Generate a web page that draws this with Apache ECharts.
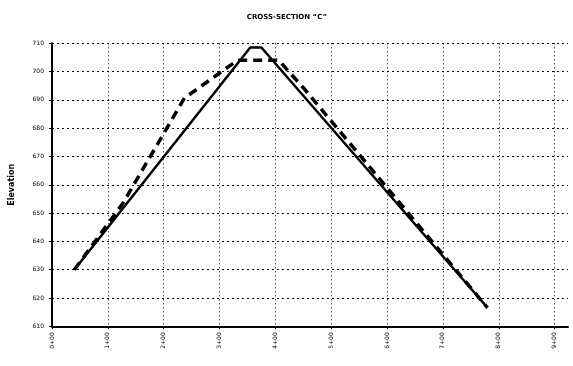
<!DOCTYPE html>
<html><head><meta charset="utf-8">
<script src="https://cdn.jsdelivr.net/npm/echarts@6/dist/echarts.min.js"></script>
<style>html,body{margin:0;padding:0;background:#fff}#c{width:573px;height:366px}</style>
</head><body><div id="c"></div>
<script>
var titleText = 'CROSS-SECTION “C”';
var yName = 'Elevation';
var xTicks = [0,100,200,300,400,500,600,700,800,900];
var yTicks = [610,620,630,640,650,660,670,680,690,700,710];
var solidStation = [40, 355, 375, 778];
var solidElev = [630, 708.5, 708.5, 617];
var dashedStation = [40, 127, 237, 332, 406, 454, 674, 780];
var dashedElev = [630, 653.5, 690.6, 704, 704, 693.4, 641.5, 616.5];

function pairs(xs, ys){ return xs.map(function(x,i){return [x, ys[i]];}); }
function fmtStation(v){
  if (v % 100 !== 0) return '';
  return (v/100) + '+00';
}
var chart = echarts.init(document.getElementById('c'));
chart.setOption({
  animation:false,
  backgroundColor:'#fff',
  title:{text:titleText,left:282,top:9,textAlign:'center',
    textStyle:{fontFamily:'DejaVu Sans',fontSize:7,fontWeight:'bold',color:'#000'}},
  grid:{left:50.5,top:43.3,right:5,bottom:39.7},
  xAxis:{type:'value',min:0,max:924,interval:100,
    axisLine:{lineStyle:{color:'#000',width:2}},
    axisTick:{show:true,length:3,customValues:xTicks,lineStyle:{color:'#000'}},
    splitLine:{show:true,lineStyle:{color:'#000',width:1,type:[1,3]}},
    axisLabel:{rotate:90,customValues:xTicks,formatter:fmtStation,fontFamily:'DejaVu Sans',fontSize:6,color:'#000',margin:6}},
  yAxis:{type:'value',min:610,max:710,interval:10,
    name:yName,nameLocation:'middle',nameGap:36,
    nameTextStyle:{fontFamily:'DejaVu Sans',fontSize:8,fontWeight:'bold',color:'#000'},
    axisLine:{show:true,lineStyle:{color:'#000',width:2}},
    axisTick:{show:true,length:3,lineStyle:{color:'#000'}},
    splitLine:{show:true,lineStyle:{color:'#000',width:1,type:[2,3]}},
    axisLabel:{fontFamily:'DejaVu Sans',fontSize:6,color:'#000',margin:8}},
  series:[
    {type:'line',data:pairs(solidStation,solidElev),symbol:'none',
      lineStyle:{color:'#000',width:2.5},z:3},
    {type:'line',data:pairs(dashedStation,dashedElev),symbol:'none',
      lineStyle:{color:'#000',width:3.5,type:[9,6]},z:4}
  ]
});
</script></body></html>
